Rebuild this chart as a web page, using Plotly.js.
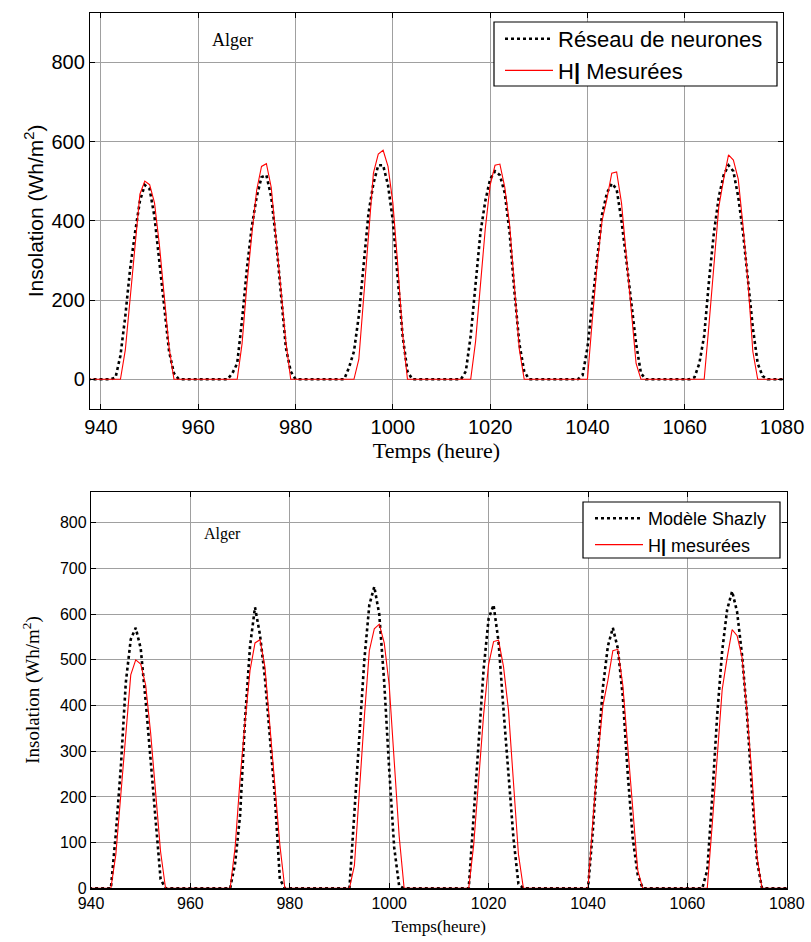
<!DOCTYPE html>
<html>
<head>
<meta charset="utf-8">
<script src="https://cdn.plot.ly/plotly-3.0.1.min.js"></script>
<style>html,body{margin:0;padding:0;background:#fff}</style>
</head>
<body>
<div id="chart" style="width:811px;height:942px"></div>
<script>
// Measured insolation (red), hours and values
const measHours = [936,
  944,945,946,947,948,949,950,951,952,953,954,955,
  968,969,970,971,972,973,974,975,976,977,978,979,
  992,993,994,995,996,997,998,999,1000,1001,1002,1003,
  1016,1017,1018,1019,1020,1021,1022,1023,1024,1025,1026,1027,
  1040,1041,1042,1043,1044,1045,1046,1047,1048,1049,1050,1051,
  1064,1065,1066,1067,1068,1069,1070,1071,1072,1073,1074,1075,
  1084];
const measVals = [0,
  0,74,206,337,467,500,491,445,340,210,80,0,
  0,90,240,365,477,537,544,484,350,220,95,0,
  0,50,215,375,520,568,578,537,445,290,115,0,
  0,95,240,380,490,540,543,485,390,235,75,0,
  0,150,290,400,455,520,523,445,310,165,40,0,
  0,140,295,435,505,566,553,505,385,245,70,0,
  0];

// Neural network estimate (top chart, black dotted)
const nnHours = [936,
  942,943,944,945,946,947,948,949,950,951,952,953,954,955,956,
  966,967,968,969,970,971,972,973,974,975,976,977,978,979,980,
  990,991,992,993,994,995,996,997,998,999,1000,1001,1002,1003,1004,
  1014,1015,1016,1017,1018,1019,1020,1021,1022,1023,1024,1025,1026,1027,1028,
  1038,1039,1040,1041,1042,1043,1044,1045,1046,1047,1048,1049,1050,1051,1052,
  1061,1062,1063,1064,1065,1066,1067,1068,1069,1070,1071,1072,1073,1074,1075,1076,1077,
  1084];
const nnVals = [0,
  0,5,60,160,280,370,450,490,480,410,300,180,70,15,0,
  0,15,40,150,280,385,460,510,515,460,350,210,80,20,0,
  0,30,70,160,290,420,494,540,540,490,400,260,110,20,0,
  0,20,110,250,370,450,505,525,515,470,370,220,90,20,0,
  0,10,80,190,310,415,470,494,480,400,300,190,90,15,0,
  0,5,40,110,250,370,460,515,540,525,460,368,250,130,40,8,0,
  0];

// Shazly model (bottom chart, black dotted)
const shHours = [936,
  944,945,946,947,948,949,950,951,952,953,954,955,
  968,969,970,971,972,973,974,975,976,977,978,979,
  992,993,994,995,996,997,998,999,1000,1001,1002,1003,
  1016,1017,1018,1019,1020,1021,1022,1023,1024,1025,1026,1027,
  1040,1041,1042,1043,1044,1045,1046,1047,1048,1049,1050,1051,
  1063,1064,1065,1066,1067,1068,1069,1070,1071,1072,1073,1074,1075,
  1084];
const shVals = [0,
  0,120,265,450,545,570,525,410,280,140,20,0,
  0,55,160,370,530,615,555,460,330,200,20,0,
  0,170,350,500,620,660,600,450,260,90,5,0,
  0,150,320,480,590,620,540,390,240,110,10,0,
  0,130,300,440,530,570,525,420,250,110,30,0,
  0,40,200,380,520,610,650,605,510,380,210,60,0,
  0];

const xTicks = [940,960,980,1000,1020,1040,1060,1080];
const yTicksTop = [0,200,400,600,800];
const yTicksBot = [0,100,200,300,400,500,600,700,800];

const serif = 'Liberation Serif, Times New Roman, serif';
const sans = 'Liberation Sans, Arial, sans-serif';
const W = 811, H = 942;

const traces = [
  {x: nnHours, y: nnVals, xaxis:'x', yaxis:'y', mode:'lines', name:'Réseau de neurones',
   line:{color:'#000', width:2.6, dash:'dot'}, legend:'legend'},
  {x: measHours, y: measVals, xaxis:'x', yaxis:'y', mode:'lines', name:'H<b>|</b> Mesurées',
   line:{color:'#ff0000', width:1.1}, legend:'legend'},
  {x: shHours, y: shVals, xaxis:'x2', yaxis:'y2', mode:'lines', name:'Modèle Shazly',
   line:{color:'#000', width:2.6, dash:'dot'}, legend:'legend2'},
  {x: measHours, y: measVals, xaxis:'x2', yaxis:'y2', mode:'lines', name:'H<b>|</b> mesurées',
   line:{color:'#ff0000', width:1.1}, legend:'legend2'}
];

function axisBase(extra){
  return Object.assign({
    showgrid:true, gridcolor:'#a0a0a0', gridwidth:1,
    showline:true, linecolor:'#000', linewidth:1.2, mirror:'ticks',
    ticks:'inside', ticklen:5, tickcolor:'#000', zeroline:false,
    tickmode:'array'
  }, extra);
}

const layout = {
  width:W, height:H,
  margin:{l:0,r:0,t:0,b:0},
  paper_bgcolor:'#fff', plot_bgcolor:'#fff',
  showlegend:true,
  xaxis: axisBase({domain:[90/W, 783/W], range:[937.74,1080.2], anchor:'y',
    tickvals:xTicks, tickfont:{family:sans, size:20, color:'#000'},
    title:{text:'Temps (heure)', font:{family:serif, size:22, color:'#000'}, standoff:2}}),
  yaxis: axisBase({domain:[1-409/H, 1-12.7/H], range:[-75,925], anchor:'x',
    tickvals:yTicksTop, tickfont:{family:sans, size:20, color:'#000'},
    title:{text:'Insolation (Wh/m<sup>2</sup>)', font:{family:sans, size:21, color:'#000'}, standoff:2}}),
  xaxis2: axisBase({domain:[91/W, 786.8/W], range:[940,1080], anchor:'y2',
    tickvals:xTicks, tickfont:{family:sans, size:16, color:'#000'},
    title:{text:'Temps(heure)', font:{family:serif, size:17, color:'#000'}, standoff:9}}),
  yaxis2: axisBase({domain:[1-888.3/H, 1-491.7/H], range:[0,868], anchor:'x2',
    tickvals:yTicksBot, tickfont:{family:sans, size:16, color:'#000'},
    title:{text:'Insolation (Wh/m<sup>2</sup>)', font:{family:serif, size:19, color:'#000'}, standoff:15}}),
  legend:{x:500/W, y:1-18/H, xanchor:'left', yanchor:'top',
    bgcolor:'rgba(0,0,0,0)', borderwidth:0, itemwidth:48,
    font:{family:sans, size:22, color:'#000'}, tracegroupgap:0},
  legend2:{x:590/W, y:1-500/H, xanchor:'left', yanchor:'top',
    bgcolor:'rgba(0,0,0,0)', borderwidth:0, itemwidth:48,
    font:{family:sans, size:18, color:'#000'}, tracegroupgap:0},
  shapes:[
    {type:'rect', xref:'paper', yref:'paper', layer:'above',
     x0:494/W, x1:777/W, y0:1-86/H, y1:1-22/H,
     line:{color:'#000', width:1.2}, fillcolor:'#fff'},
    {type:'rect', xref:'paper', yref:'paper', layer:'above',
     x0:583/W, x1:780/W, y0:1-558/H, y1:1-502/H,
     line:{color:'#000', width:1.2}, fillcolor:'#fff'}
  ],
  annotations:[
    {xref:'paper', yref:'paper', x:210/W, y:1-28/H, text:'Alger', showarrow:false,
     font:{family:serif, size:18, color:'#000'}},
    {xref:'paper', yref:'paper', x:202/W, y:1-534/H, text:'Alger', showarrow:false,
     font:{family:serif, size:16, color:'#000'}}
  ]
};

Plotly.newPlot('chart', traces, layout, {displayModeBar:false, staticPlot:true});
</script>
</body>
</html>
